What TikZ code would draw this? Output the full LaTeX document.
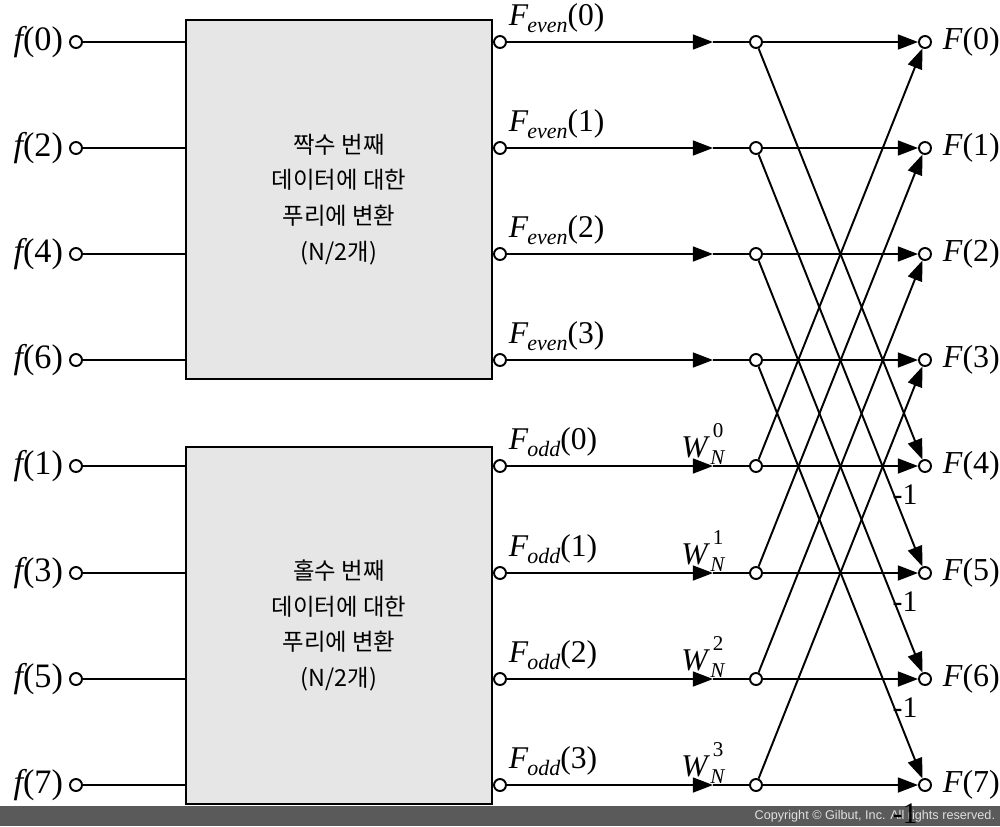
\documentclass[tikz,border=0pt]{standalone}
\usepackage{fontspec}
\setmainfont{Liberation Serif}
\newfontfamily\krfont{Noto Sans CJK KR}
\newfontfamily\cpyfont{Liberation Sans}
\usetikzlibrary{arrows.meta}
\definecolor{barcol}{HTML}{5A5A5A}
\definecolor{boxcol}{HTML}{E6E6E6}
\newcommand\Fsub[2]{{\itshape F}\kern-0.5pt\raisebox{-0.45ex}{\fontsize{12.5}{13}\selectfont\itshape #1}(#2)}
\newcommand\Wn[1]{{\itshape W}\kern1.5pt{\fontsize{12}{12}\selectfont\rlap{\makebox[0.72em][c]{\raisebox{0.95em}{#1}}}\raisebox{-0.35em}{\itshape N}}}
\begin{document}
\begin{tikzpicture}[x=0.02cm,y=-0.02cm,line width=1.1pt,
  port/.style={circle,draw,fill=white,inner sep=0pt,minimum size=0.24cm},
  blk/.style={draw,fill=boxcol,minimum width=6.12cm,align=center,
    font=\krfont\fontsize{13.3}{20.4}\selectfont},
  arr/.style={-{Triangle[length=11.5pt,width=8.5pt]}},
  lbl/.style={inner sep=0pt,font=\fontsize{18}{20}\selectfont},
  big/.style={inner sep=0pt,font=\fontsize{19.5}{21}\selectfont},
  outl/.style={inner sep=0pt,font=\fontsize{18.2}{20}\selectfont},
  neg/.style={inner sep=0pt,font=\fontsize{17}{18}\selectfont}]
\useasboundingbox (0,0) rectangle (1000,826);
\fill[barcol] (0,806) rectangle (1000,826);
\node[anchor=east,inner sep=0pt,text=white!88!black,font=\cpyfont\fontsize{7.2}{8}\selectfont] (cpy) at (996,816) {Copyright \textcopyright\ Gilbut, Inc. All rights reserved.};
\node[blk,minimum height=7.18cm] (B1) at (339,199.5) {짝수 번째\\데이터에 대한\\푸리에 변환\\(N/2개)};
\node[blk,minimum height=7.14cm] (B2) at (339,625.5) {홀수 번째\\데이터에 대한\\푸리에 변환\\(N/2개)};
\foreach \r/\y/\n/\b in {0/42/0/B1,1/148/2/B1,2/254/4/B1,3/360/6/B1,4/466/1/B2,5/573/3/B2,6/679/5/B2,7/785/7/B2}{
  \node[port] (I\r) at (76,\y) {};
  \node[big,anchor=east] (IL\r) at (64,\y) {{\itshape f}(\n)};
  \draw (I\r) -- (I\r -| \b.west);
  \node[port] (O\r) at (500,\y) {};
  \coordinate (A\r) at (713,\y);
  \node[port] (M\r) at (756,\y) {};
  \node[port] (Z\r) at (925,\y) {};
  \node[outl,anchor=west] (ZL\r) at (942,\y) {{\itshape F}(\r)};
  \draw[arr] (O\r) -- (A\r);
  \draw (A\r) -- (M\r);
  \draw[arr] (M\r) -- (Z\r);
}
\foreach \k/\y in {0/42,1/148,2/254,3/360}{
  \node[lbl,anchor=west] (FE\k) at (508,\y-24) {\Fsub{even}{\k}};
}
\foreach \k/\y in {0/466,1/573,2/679,3/785}{
  \node[lbl,anchor=west] (FO\k) at (508,\y-24) {\Fsub{odd}{\k}};
  \node[lbl] (W\k) at (703,\y-22) {\Wn{\k}};
}
\foreach \k [evaluate=\k as \j using int(\k+4)] in {0,1,2,3}{
  \draw[arr] (M\k) -- (Z\j);
  \draw[arr] (M\j) -- (Z\k);
  \node[neg] (N\j) at ([shift={(-20,29)}]Z\j.center) {-1};
}
\end{tikzpicture}
\end{document}
